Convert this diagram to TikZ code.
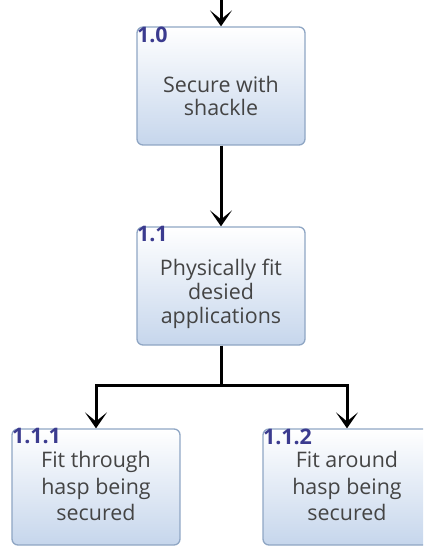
\documentclass[tikz,border=0pt]{standalone}
\usepackage{fontspec}
\setmainfont{Open Sans}
\usetikzlibrary{arrows.meta}
\definecolor{boxedge}{HTML}{8FA6C4}
\definecolor{boxbottom}{HTML}{C6D6EC}
\definecolor{idblue}{HTML}{3B3B8F}
\definecolor{bodytext}{HTML}{444444}
\begin{document}
\begin{tikzpicture}[x=1bp,y=-1bp,
  task/.style={draw=boxedge, line width=1.3bp, rounded corners=6bp,
    top color=white, bottom color=boxbottom,
    minimum width=168bp, minimum height=118bp, inner sep=0pt},
  tasktext/.style={text=bodytext, font=\fontsize{21.5}{24}\selectfont,
    align=center, inner sep=0pt},
  taskid/.style={text=idblue, font=\fontsize{21.5}{21}\selectfont\bfseries,
    anchor=north west, inner sep=0pt},
  link/.style={line width=3bp},
  flow/.style={link, -{Stealth[length=16bp,width=22bp,inset=9bp]}}
]
\useasboundingbox (0,0) rectangle (423,546);
\clip (0,0) rectangle (423,546);

% task boxes
\node[task] (n10) at (221,86) {};
\node[task] (n11) at (221,286) {};
\node[task, minimum height=116bp] (n111) at (96,487) {};
\node[task, minimum height=116bp] (n112) at (347,487) {};

% task numbers
\node[taskid] (id10) at ([xshift=0.5bp]n10.north west) {1.0};
\node[taskid] (id11) at ([xshift=0.5bp]n11.north west) {1.1};
\node[taskid] (id111) at ([xshift=0.5bp]n111.north west) {1.1.1};
\node[taskid] (id112) at ([xshift=0.5bp]n112.north west) {1.1.2};

% task descriptions
\node[tasktext] (t10) at (221,96) {Secure with\\shackle};
\node[tasktext] (t11) at (221,294) {Physically fit\\desied\\applications};
\node[tasktext, font=\fontsize{21.5}{27}\selectfont] (t111) at (96,486) {Fit through\\hasp being\\secured};
\node[tasktext, font=\fontsize{21.5}{27}\selectfont] (t112) at (347,486) {Fit around\\hasp being\\secured};

% connectors
\coordinate (entry) at (221,0);
\coordinate (split) at (221,385);
\draw[flow] (entry) -- (n10.north);
\draw[flow] (n10.south) -- (n11.north);
\draw[link] (n11.south) -- (split);
\draw[flow] (split) -| (n111.north);
\draw[flow] (split) -| (n112.north);
\end{tikzpicture}
\end{document}
